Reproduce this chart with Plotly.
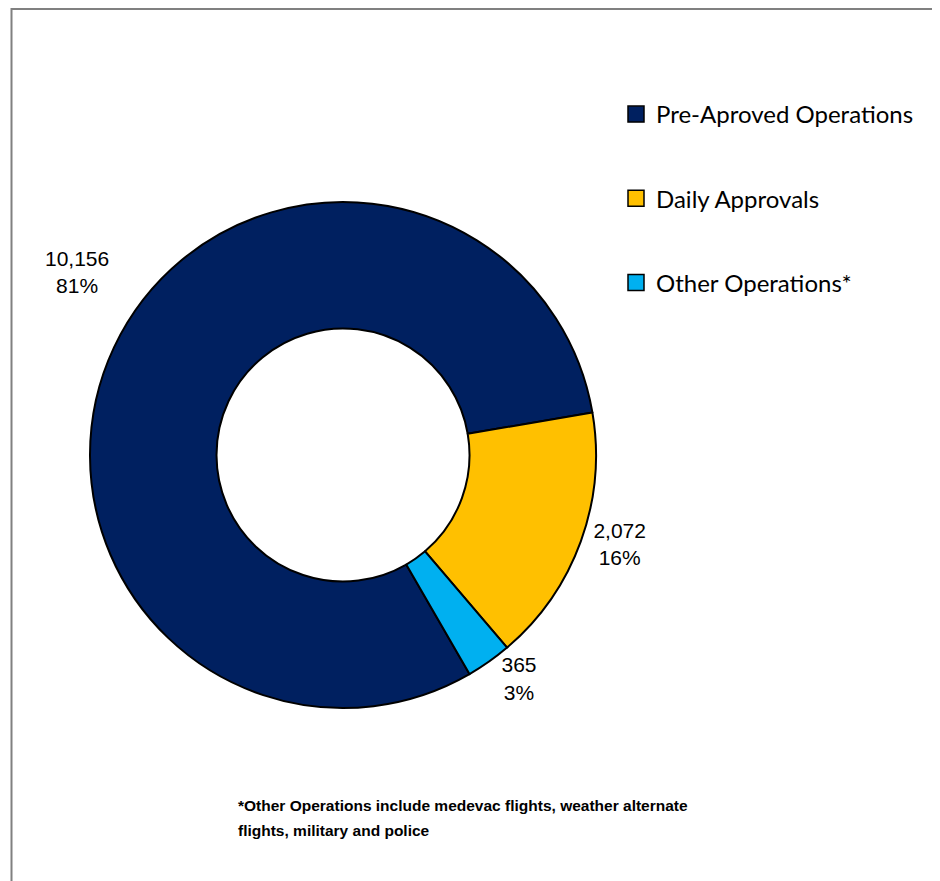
import plotly.graph_objects as go

categories = ["Pre-Aproved Operations", "Daily Approvals", "Other Operations*"]
values = [10156, 2072, 365]
colors = ["#002060", "#FFC000", "#00B0F0"]
footnote_lines = ["*Other Operations include medevac flights, weather alternate",
                  "flights, military and police"]

W, H = 940, 881
# page is offset by 8px body margin; coordinates below are in figure (paper) pixels
cx, cy, r = 335, 447, 253
total = sum(values)
label_text = [f"{v:,}<br>{round(100 * v / total)}%" for v in values]

fig = go.Figure()
fig.add_trace(go.Pie(
    labels=categories,
    values=values,
    hole=0.5,
    sort=False,
    direction="clockwise",
    rotation=150,
    marker=dict(colors=colors, line=dict(color="#000000", width=2)),
    text=label_text,
    texttemplate=["", "%{text}", "%{text}"],
    textposition=["none", "outside", "outside"],
    textfont=dict(family="Liberation Sans, Arial", size=21, color="#000000"),
    outsidetextfont=dict(family="Liberation Sans, Arial", size=21, color="#000000"),
    showlegend=False,
    hoverinfo="label+value+percent",
    domain=dict(x=[(cx - r) / W, (cx + r) / W],
                y=[1 - (cy + r) / H, 1 - (cy - r) / H]),
))

for name, col in zip(categories, colors):
    fig.add_trace(go.Scatter(
        x=[None], y=[None], mode="markers", name=name, legendgroup=name,
        marker=dict(symbol="square", size=16, color=col, line=dict(color="#000000", width=1.5)),
    ))

annotations = [dict(
    text=label_text[0], xref="paper", yref="paper",
    x=69 / W, y=1 - 264 / H, xanchor="center", yanchor="middle", align="center",
    showarrow=False,
    font=dict(family="Liberation Sans, Arial", size=21, color="#000000"),
)]
for i, line in enumerate(footnote_lines):
    annotations.append(dict(
        text="<b>" + line + "</b>", xref="paper", yref="paper",
        x=228 / W, y=1 - (797 + 25 * i) / H, xanchor="left", yanchor="middle", align="left",
        showarrow=False,
        font=dict(family="Liberation Sans, Arial", size=15.5, color="#000000"),
    ))

fig.update_layout(
    width=W, height=H,
    margin=dict(l=0, r=0, t=0, b=0, autoexpand=False),
    paper_bgcolor="#FFFFFF", plot_bgcolor="#FFFFFF",
    xaxis=dict(visible=False), yaxis=dict(visible=False),
    showlegend=True,
    legend=dict(
        x=608 / W, y=1 - 84 / H, xanchor="left", yanchor="top",
        font=dict(family="Lato, Carlito, Calibri", size=24, color="#000000"),
        tracegroupgap=50, itemwidth=30, bgcolor="rgba(0,0,0,0)",
    ),
    annotations=annotations,
    shapes=[dict(type="rect", xref="paper", yref="paper",
                 x0=3.5 / W, x1=1.05, y0=-0.05, y1=1 - 1 / H,
                 line=dict(color="#808080", width=2), fillcolor="rgba(0,0,0,0)")],
)

fig.write_html("out.html")
